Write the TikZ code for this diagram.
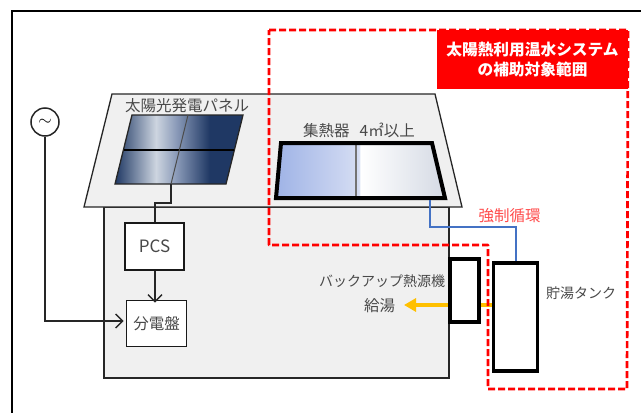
\documentclass[tikz,border=0pt]{standalone}
\usepackage{fontspec}
\setmainfont{Noto Sans CJK JP}
\usetikzlibrary{arrows.meta}
\definecolor{txt}{HTML}{484848}
\definecolor{housefill}{HTML}{F0F0F0}
\definecolor{pipeblue}{HTML}{4472C4}
\definecolor{amber}{HTML}{FFC000}
\definecolor{lightred}{HTML}{FF4B4B}
\definecolor{pdark}{HTML}{1F3864}
\definecolor{plight}{HTML}{CDD5E0}
\definecolor{pmid}{HTML}{8A9AB8}
\definecolor{cblue}{HTML}{9FB3E6}
\definecolor{cpale}{HTML}{D5DDF3}
\definecolor{cgrey}{HTML}{D5DAE4}
\pgfdeclarehorizontalshading{panelshade}{100bp}{color(0bp)=(pdark);color(25bp)=(pdark);color(41bp)=(plight);color(49bp)=(pmid);color(62bp)=(pdark);color(100bp)=(pdark)}
\pgfdeclarehorizontalshading{collshade}{100bp}{color(0bp)=(cblue);color(25bp)=(cblue);color(49.5bp)=(cpale);color(50bp)=(white);color(75bp)=(cgrey);color(100bp)=(cgrey)}
\tikzset{
  thin line/.style={draw=black!85,line width=1.3pt},
  conn/.style={draw=black!85,line width=1.4pt},
  arrowconn/.style={conn,-{Straight Barb[length=7pt,width=14pt,line width=1.4pt]}},
  whitebox/.style={draw=black!90,fill=white,line width=1.8pt,inner sep=0pt,text=txt},
  thickbox/.style={draw=black,fill=white,line width=3.8pt,inner sep=0pt},
  label/.style={inner sep=0pt,text=txt,font=\fontsize{14}{16}\selectfont},
  biglabel/.style={inner sep=0pt,text=txt,font=\fontsize{15.5}{17}\selectfont},
  redscope/.style={draw=red,line width=2.7pt,dash pattern=on 7pt off 3pt},
}
\begin{document}
\begin{tikzpicture}[x=1pt,y=-1pt]
\useasboundingbox (0,0) rectangle (641,413);
% frame
\coordinate (fa) at (12,413); \coordinate (fb) at (12,11); \coordinate (fc) at (641,11);
\draw[black,line width=1.6pt] (fa) -- (fb) -- (fc);
% house
\coordinate (hsw) at (104,378); \coordinate (hse) at (449,378);
\coordinate (hnw) at (104,207); \coordinate (hne) at (449,207);
\draw[thin line,fill=housefill] (hnw) -- (hsw) -- (hse) -- (hne) -- cycle;
\draw[thin line,fill=housefill] (112,94) -- (435,94) -- (462,207) -- (84,207) -- cycle;
% solar panel
\shade[shading=panelshade] (132,115) -- (243,115) -- (226,184) -- (115,184) -- cycle;
\draw[black!85,line width=1.3pt] (132,115) -- (243,115) -- (226,184) -- (115,184) -- cycle;
\coordinate (pl) at (123.5,150); \coordinate (pr) at (233.5,150);
\coordinate (pt) at (188,115); \coordinate (pb) at (171,184);
\draw[black,line width=1.1pt] (pl) -- (pr);
\draw[black!70,line width=1pt] (pt) -- (pb);
\node[biglabel,anchor=center] (pvlabel) at (187,106) {太陽光発電パネル};
% collector
\shade[shading=collshade] (281,143) -- (432,143) -- (445,198) -- (276,198) -- cycle;
\coordinate (ct) at (356,143); \coordinate (cb) at (356,198);
\draw[black!55,line width=1.2pt] (ct) -- (cb);
\draw[black,line width=4pt,line join=miter] (281,143) -- (432,143) -- (445,198) -- (276,198) -- cycle;
\node[biglabel,anchor=center] (colllabel) at (359,130) {集熱器\hspace{10pt}4㎡以上};
% AC source
\node[circle,draw=black!85,fill=white,line width=1.5pt,minimum size=28pt,inner sep=0pt,font=\fontsize{19}{19}\selectfont] (ac) at (45,122) {$\sim$};
% boxes
\node[whitebox,minimum width=59pt,minimum height=47pt,font=\fontsize{17}{18}\selectfont] (pcs) at (154.5,246.5) {PCS};
\node[whitebox,minimum width=60pt,minimum height=46pt,font=\fontsize{15.5}{17}\selectfont] (board) at (156.5,323.5) {分電盤};
% connectors
\coordinate (pvj1) at (171,203); \coordinate (pvj2) at (155,203);
\draw[conn] (pb) -- (pvj1) -- (pvj2) -- (pcs.north -| pvj2);
\draw[arrowconn] (pcs.south -| pvj2) -- ([yshift=-3pt]pvj2 |- board.north);
\coordinate (acj) at (45,321);
\draw[arrowconn] (ac.south) -- (acj) -- ([xshift=-2pt]acj -| board.west);
% tank and backup
\coordinate (yl) at (480,305); \coordinate (yr) at (493,305);
\draw[amber,line width=4pt] (yl) -- (yr);
\node[thickbox,minimum width=29pt,minimum height=63pt] (backup) at (464.5,290.5) {};
\node[thickbox,minimum width=44pt,minimum height=108pt] (tank) at (515.5,317) {};
\coordinate (yend) at (404,305);
\draw[amber,line width=4pt,-{Triangle[length=12pt,width=13pt]}] (backup.west |- yend) -- (yend);
% pipe
\coordinate (pa) at (430,200); \coordinate (pbb) at (430,227); \coordinate (pc) at (516,227);
\draw[pipeblue,line width=2pt] (pa) -- (pbb) -- (pc) -- (pc |- tank.north);
\node[biglabel,text=lightred,anchor=center] (force) at (509.5,216) {強制循環};
\node[label,anchor=center] (blabel) at (382,281) {バックアップ熱源機};
\node[biglabel,anchor=center] (qlabel) at (379.5,306) {給湯};
\node[label,anchor=center] (tlabel) at (581,293) {貯湯タンク};
% red scope
\draw[redscope,line join=round] (269,30) -- (628,30) -- (627,389) -- (488,389) -- (488,245) -- (269,245) -- cycle;
\node[fill=red,minimum width=191pt,minimum height=59pt,inner sep=0pt,text=white,align=center,font=\fontsize{15.7}{20}\selectfont\bfseries] (scope) at (532.5,59.5) {太陽熱利用温水システム\\の補助対象範囲};
\end{tikzpicture}
\end{document}
